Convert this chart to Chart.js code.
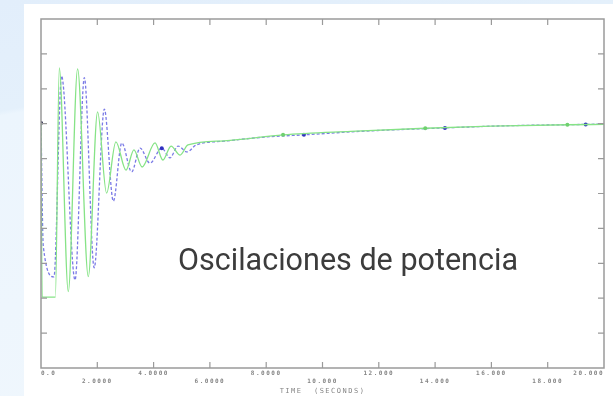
<!DOCTYPE html>
<html>
<head>
<meta charset="utf-8">
<script src="https://cdn.jsdelivr.net/npm/chart.js@4/dist/chart.umd.min.js"></script>
<style>
  html, body { margin: 0; padding: 0; }
  body {
    width: 613px; height: 396px; overflow: hidden; position: relative;
    background: linear-gradient(170deg, #e2eefb 0%, #e4f0fb 22%, #ecf5fd 23%, #f0f7fd 100%);
  }
  #panel { position: absolute; left: 24px; top: 4px; width: 589px; height: 392px; background: #fff; }
  #wrap { position: absolute; left: 0; top: 0; width: 613px; height: 396px; }
  #caption {
    position: absolute; left: 178px; top: 240px; white-space: nowrap;
    font-family: Roboto, "Noto Sans", sans-serif; font-weight: 400; font-size: 32px;
    color: #3c3c3c; transform-origin: 0 0;
  }
</style>
</head>
<body>
<div id="panel"></div>
<div id="wrap"><canvas id="myChart" width="613" height="396"></canvas></div>
<div id="caption">Oscilaciones de potencia</div>
<script>
	// time axis labels (seconds)
	var tickLabels = ['0.0', '2.0000', '4.0000', '6.0000', '8.0000', '10.000', '12.000', '14.000', '16.000', '18.000', '20.000'];

	// green solid curve
	var greenTime = [0, 0.04, 0.51, 0.65, 0.97, 1.30, 1.68, 2.01, 2.33, 2.66, 3.02, 3.30, 3.59, 4.05, 4.33, 4.62, 4.94, 5.22, 6.5, 8.6, 11.0, 13.65, 16.0, 18.7, 20];
	var greenValue = [7.02, 2.03, 2.03, 8.60, 2.19, 8.57, 2.62, 7.34, 5.01, 6.48, 5.67, 6.25, 5.76, 6.45, 5.96, 6.36, 6.10, 6.39, 6.51, 6.68, 6.78, 6.87, 6.93, 6.97, 6.98];
	var greenMarks = [8.6, 13.65, 18.7];

	// blue dashed curve
	var blueTime = [0, 0.08, 0.46, 0.73, 1.21, 1.54, 1.89, 2.25, 2.57, 2.87, 3.22, 3.52, 3.87, 4.29, 4.58, 4.87, 5.19, 5.51, 6.5, 8.0, 9.34, 11.3, 14.35, 16.5, 19.35, 20];
	var blueValue = [7.02, 3.5, 2.61, 8.37, 2.52, 8.32, 2.87, 7.42, 4.78, 6.45, 5.62, 6.30, 5.87, 6.30, 6.02, 6.36, 6.19, 6.39, 6.50, 6.62, 6.68, 6.78, 6.88, 6.94, 6.98, 6.99];
	var blueMarks = [0, 4.29, 9.34, 14.35, 19.35];

	function toPoints(ts, vs) {
		var pts = [];
		for (let i = 0; i < ts.length; i++) {
			pts.push({x: ts[i], y: vs[i]});
		}
		return pts;
	}

	// frame + inward ticks on all four sides
	var framePlugin = {
		id: 'frame',
		beforeDraw: function(chart) {
			chart.ctx.letterSpacing = '1.5px';
		},
		afterDatasetsDraw: function(chart) {
			var ctx = chart.ctx;
			var a = chart.chartArea;
			var xs = chart.scales.x, ys = chart.scales.y;
			ctx.save();
			ctx.strokeStyle = '#9a9a9a';
			ctx.lineWidth = 1.5;
			ctx.strokeRect(a.left, a.top, a.right - a.left, a.bottom - a.top);
			ctx.lineWidth = 1.2;
			ctx.beginPath();
			for (let v = 2; v < 20; v += 2) {
				var px = xs.getPixelForValue(v);
				ctx.moveTo(px, a.bottom); ctx.lineTo(px, a.bottom - 6);
				ctx.moveTo(px, a.top); ctx.lineTo(px, a.top + 6);
			}
			for (let v = 1; v < 10; v++) {
				var py = ys.getPixelForValue(v);
				ctx.moveTo(a.left, py); ctx.lineTo(a.left + 6, py);
				ctx.moveTo(a.right, py); ctx.lineTo(a.right - 6, py);
			}
			ctx.stroke();
			ctx.restore();
		}
	};

	var config = {
		type: 'line',
		data: {
			datasets: [{
				label: 'green',
				data: toPoints(greenTime, greenValue),
				borderColor: '#86e386',
				borderWidth: 1.3,
				pointRadius: ctx => greenMarks.includes(greenTime[ctx.dataIndex]) ? 2 : 0,
				pointBackgroundColor: '#6fd06f',
				pointBorderWidth: 0,
				cubicInterpolationMode: 'monotone'
			},
			{
				label: 'blue',
				data: toPoints(blueTime, blueValue),
				borderColor: '#7a7ae6',
				borderWidth: 1.3,
				borderDash: [3, 2],
				pointRadius: ctx => blueMarks.includes(blueTime[ctx.dataIndex]) ? 2 : 0,
				pointBackgroundColor: ctx => ctx.dataIndex === 0 ? '#222244' : '#3030c0',
				pointBorderWidth: 0,
				cubicInterpolationMode: 'monotone'
			}]
		},
		options: {
			responsive: false,
			animation: false,
			layout: { padding: { left: 41, right: 9, top: 19, bottom: 0 } },
			plugins: { legend: { display: false }, tooltip: { enabled: false } },
			scales: {
				x: {
					type: 'linear',
					min: 0, max: 20,
					afterBuildTicks: function(scale) {
						scale.ticks = tickLabels.map((t, i) => ({value: i * 2}));
					},
					afterFit: function(scale) {
						scale.height = 28;
						scale.paddingLeft = 0;
						scale.paddingRight = 0;
					},
					grid: { display: false, drawTicks: false },
					border: { display: false },
					ticks: {
						autoSkip: false,
						maxRotation: 0,
						align: 'inner',
						padding: 1,
						color: '#858585',
						font: { family: 'DejaVu Sans Mono', size: 6, weight: 'bold', lineHeight: 1.35 },
						callback: function(value, index) {
							var s = tickLabels[index];
							return index % 2 === 0 ? [s, ''] : ['', s];
						}
					},
					title: {
						display: true,
						text: 'TIME  (SECONDS)',
						color: '#858585',
						font: { family: 'DejaVu Sans Mono', size: 7, lineHeight: 1.2 },
						padding: { top: 0, bottom: 1 }
					}
				},
				y: {
					display: false,
					min: 0, max: 10
				}
			}
		},
		plugins: [framePlugin]
	};

	var myChart = new Chart(document.getElementById('myChart'), config);

	// squeeze the caption to the condensed width of the original
	var cap = document.getElementById('caption');
	var w = cap.getBoundingClientRect().width;
	cap.style.transform = 'scaleX(' + (340 / w) + ')';
</script>
</body>
</html>
